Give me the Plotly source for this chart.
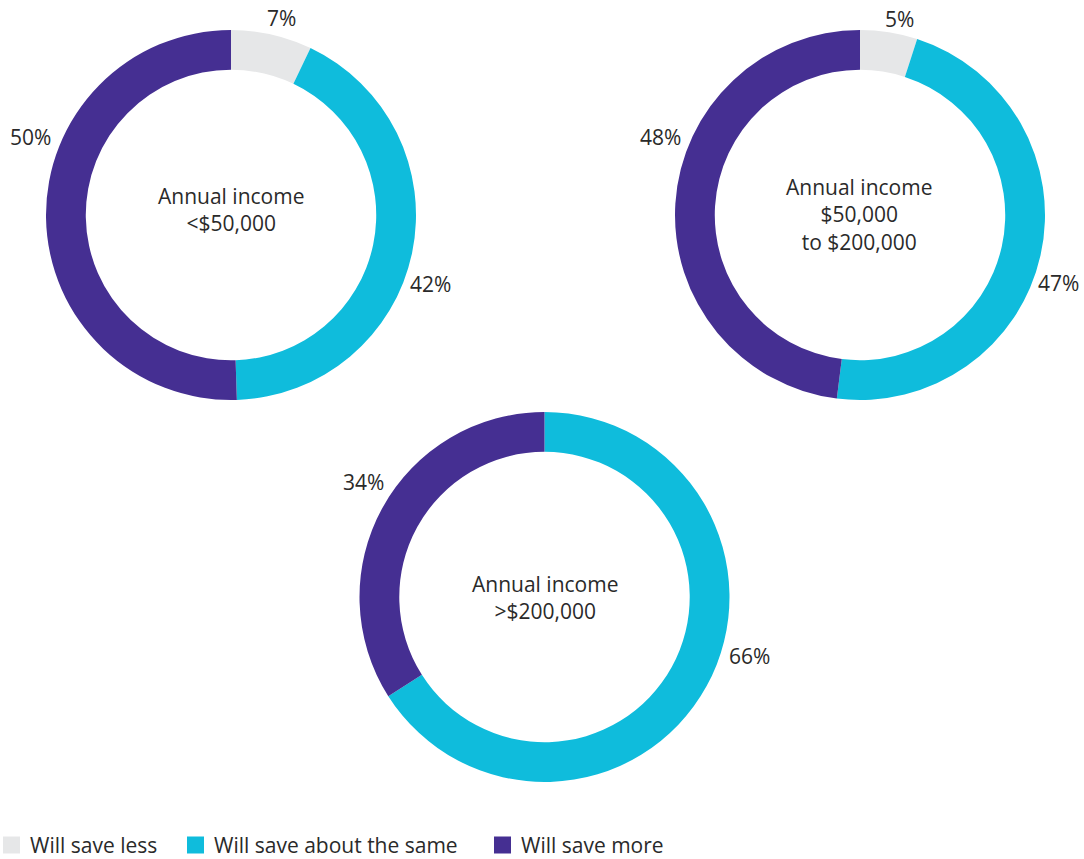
import plotly.graph_objects as go

# ---- data ----
categories = ["Will save less", "Will save about the same", "Will save more"]
colors = ["#e6e7e8", "#0fbcdc", "#452f92"]

groups = ["Annual income<br><$50,000",
          "Annual income<br>$50,000<br>to $200,000",
          "Annual income<br>>$200,000"]
low_income = [7, 42, 50]
mid_income = [5, 47, 48]
high_income = [0, 66, 34]
series = [low_income, mid_income, high_income]

# ---- layout / style (pixel geometry) ----
W, H = 1084, 859
pie_centers = [(231, 215), (860, 215), (544.5, 597)]
title_px = [(231, 209), (859, 215), (544.5, 597)]
R = 185
HOLE = 0.785
# label anchor points (pixels), one per category per donut (None = no label)
label_px = [
    [(281, 18), (430, 284), (30, 137)],
    [(899, 19), (1058, 283), (660, 137)],
    [None, (749, 656), (363, 482)],
]
FONT = "Open Sans, Noto Sans, sans-serif"
TXT = "#2a2a2a"
FS = 21


def px(x, y):
    return x / W, 1 - y / H


fig = go.Figure()
annotations = []
for g, (vals, (cx, cy), lbls) in enumerate(zip(series, pie_centers, label_px)):
    labs = [c for c, v in zip(categories, vals) if v > 0]
    cols = [col for col, v in zip(colors, vals) if v > 0]
    vv = [v for v in vals if v > 0]
    x0, y1 = px(cx - R, cy - R)
    x1, y0 = px(cx + R, cy + R)
    fig.add_trace(go.Pie(
        labels=labs, values=vv, hole=HOLE, sort=False, direction="clockwise",
        rotation=0, marker=dict(colors=cols, line=dict(width=0)),
        textinfo="none", hoverinfo="label+percent", showlegend=False,
        domain=dict(x=[x0, x1], y=[y0, y1]),
    ))
    tx, ty = px(*title_px[g])
    annotations.append(dict(x=tx, y=ty, xref="paper", yref="paper",
                            text=groups[g], showarrow=False,
                            xanchor="center", yanchor="middle", align="center",
                            font=dict(family=FONT, size=FS, color=TXT)))
    for v, pos in zip(vals, lbls):
        if pos is None or v == 0:
            continue
        ax, ay = px(*pos)
        annotations.append(dict(x=ax, y=ay, xref="paper", yref="paper",
                                text=f"{v}%", showarrow=False,
                                xanchor="center", yanchor="middle",
                                font=dict(family=FONT, size=FS, color=TXT)))

# manual legend
legend_x = [3, 187, 494]
legend_y = 845
SQ = 17
shapes = []
for c, col, lx in zip(categories, colors, legend_x):
    sx0, sy1 = px(lx, legend_y - SQ / 2)
    sx1, sy0 = px(lx + SQ, legend_y + SQ / 2)
    shapes.append(dict(type="rect", xref="paper", yref="paper",
                       x0=sx0, x1=sx1, y0=sy0, y1=sy1,
                       fillcolor=col, line=dict(width=0)))
    tx, ty = px(lx + SQ + 8, legend_y)
    annotations.append(dict(x=tx, y=ty, xref="paper", yref="paper", text=c,
                            showarrow=False, xanchor="left", yanchor="middle",
                            font=dict(family=FONT, size=FS, color=TXT)))

fig.update_layout(
    width=W, height=H, margin=dict(l=0, r=0, t=0, b=0),
    paper_bgcolor="white", plot_bgcolor="white",
    annotations=annotations, shapes=shapes, showlegend=False,
    font=dict(family=FONT, color=TXT),
)

fig.write_html("out.html")
